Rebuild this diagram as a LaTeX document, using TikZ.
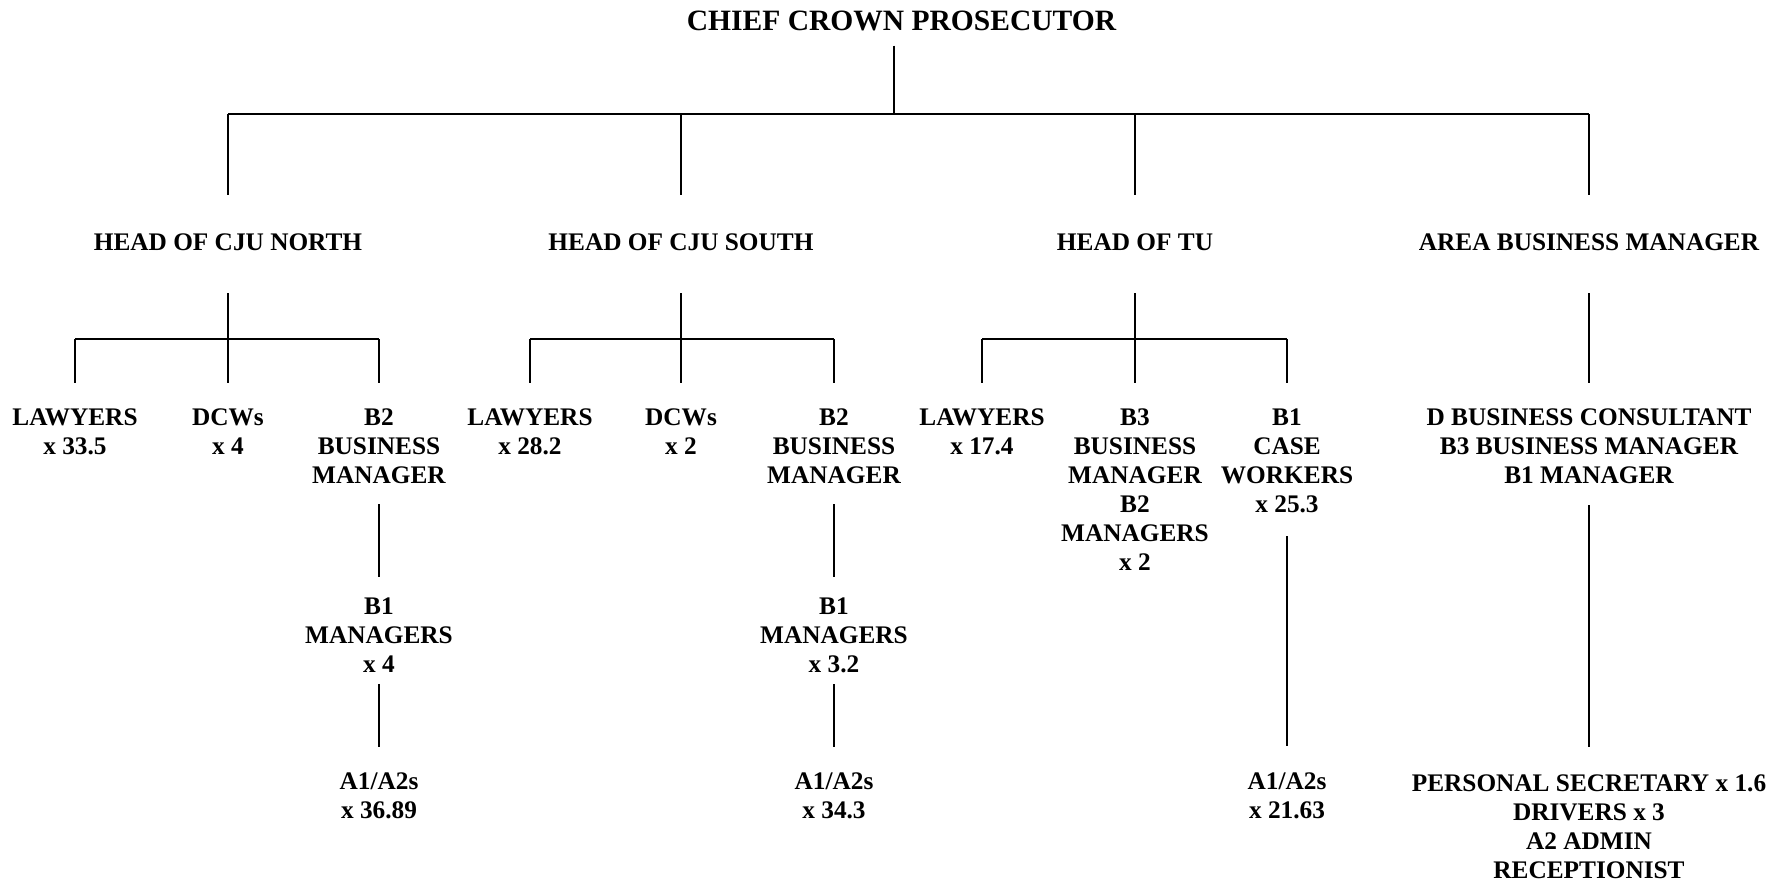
\documentclass[tikz,border=0pt]{standalone}
\usepackage{fontspec}
\setmainfont{Liberation Serif}

\begin{document}
\begin{tikzpicture}[
  lbl/.style={font=\fontsize{14.4}{16.6}\selectfont\bfseries, align=center,
    inner sep=0pt, anchor=north},
  ttl/.style={lbl, font=\fontsize{16.8}{20}\selectfont\bfseries},
  link/.style={line width=1pt},
  bar/.style={line width=1.6pt}
]
  \useasboundingbox (0,0) rectangle (35.56,-17.68);

  \node[ttl] (ccp) at (18.03,-0.22) {CHIEF CROWN PROSECUTOR};

  \node[lbl] (cjun) at (4.56,-4.66)  {HEAD OF CJU NORTH};
  \node[lbl] (cjus) at (13.62,-4.66) {HEAD OF CJU SOUTH};
  \node[lbl] (tu)   at (22.7,-4.66)  {HEAD OF TU};
  \node[lbl] (abm)  at (31.78,-4.66) {AREA BUSINESS MANAGER};

  \node[lbl] (nlaw) at (1.5,-8.16)   {LAWYERS\\x 33.5};
  \node[lbl] (ndcw) at (4.56,-8.16)  {DCWs\\x 4};
  \node[lbl] (nbm)  at (7.58,-8.16)  {B2\\BUSINESS\\MANAGER};
  \node[lbl] (nbone) at (7.58,-11.94) {B1\\MANAGERS\\x 4};
  \node[lbl] (nadm) at (7.58,-15.44) {A1/A2s\\x 36.89};

  \node[lbl] (slaw) at (10.6,-8.16)  {LAWYERS\\x 28.2};
  \node[lbl] (sdcw) at (13.62,-8.16) {DCWs\\x 2};
  \node[lbl] (sbm)  at (16.68,-8.16) {B2\\BUSINESS\\MANAGER};
  \node[lbl] (sbone) at (16.68,-11.94) {B1\\MANAGERS\\x 3.2};
  \node[lbl] (sadm) at (16.68,-15.44) {A1/A2s\\x 34.3};

  \node[lbl] (tlaw) at (19.64,-8.16) {LAWYERS\\x 17.4};
  \node[lbl] (tbm)  at (22.7,-8.16)
    {B3\\BUSINESS\\MANAGER\\B2\\MANAGERS\\x 2};
  \node[lbl] (tcw)  at (25.74,-8.16) {B1\\CASE\\WORKERS\\x 25.3};
  \node[lbl] (tadm) at (25.74,-15.44) {A1/A2s\\x 21.63};

  \node[lbl] (abmmgr) at (31.78,-8.16)
    {D BUSINESS CONSULTANT\\B3 BUSINESS MANAGER\\B1 MANAGER};
  \node[lbl] (abmstaff) at (31.78,-15.48)
    {PERSONAL SECRETARY x 1.6\\DRIVERS x 3\\A2 ADMIN\\RECEPTIONIST};

  \coordinate (top) at (17.88,-2.28);
  \coordinate (jn) at (4.56,-6.78);
  \coordinate (js) at (13.62,-6.78);
  \coordinate (jt) at (22.7,-6.78);

  \draw[link, shorten <=0.28cm] (ccp.south -| top) -- (top);
  \draw[bar] (cjun |- top) -- (abm |- top);
  \draw[link, shorten >=0.76cm] (cjun |- top) -- (cjun.north);
  \draw[link, shorten >=0.76cm] (cjus |- top) -- (cjus.north);
  \draw[link, shorten >=0.76cm] (tu |- top) -- (tu.north);
  \draw[link, shorten >=0.76cm] (abm |- top) -- (abm.north);

  \draw[link, shorten <=0.86cm] (cjun.base) -- (jn);
  \draw[bar] (nlaw |- jn) -- (nbm |- jn);
  \draw[link, shorten >=0.5cm] (nlaw |- jn) -- (nlaw.north);
  \draw[link, shorten >=0.5cm] (ndcw |- jn) -- (ndcw.north);
  \draw[link, shorten >=0.5cm] (nbm |- jn) -- (nbm.north);
  \draw[link, shorten <=0.4cm, shorten >=0.4cm] (nbm.south) -- (nbone.north);
  \draw[link, shorten <=0.22cm, shorten >=0.5cm] (nbone.south) -- (nadm.north);

  \draw[link, shorten <=0.86cm] (cjus.base) -- (js);
  \draw[bar] (slaw |- js) -- (sbm |- js);
  \draw[link, shorten >=0.5cm] (slaw |- js) -- (slaw.north);
  \draw[link, shorten >=0.5cm] (sdcw |- js) -- (sdcw.north);
  \draw[link, shorten >=0.5cm] (sbm |- js) -- (sbm.north);
  \draw[link, shorten <=0.4cm, shorten >=0.4cm] (sbm.south) -- (sbone.north);
  \draw[link, shorten <=0.22cm, shorten >=0.5cm] (sbone.south) -- (sadm.north);

  \draw[link, shorten <=0.86cm] (tu.base) -- (jt);
  \draw[bar] (tlaw |- jt) -- (tcw |- jt);
  \draw[link, shorten >=0.5cm] (tlaw |- jt) -- (tlaw.north);
  \draw[link, shorten >=0.5cm] (tbm |- jt) -- (tbm.north);
  \draw[link, shorten >=0.5cm] (tcw |- jt) -- (tcw.north);
  \draw[link, shorten <=0.46cm, shorten >=0.52cm] (tcw.south) -- (tadm.north);

  \draw[link, shorten <=0.86cm, shorten >=0.5cm] (abm.base) -- (abmmgr.north);
  \draw[link, shorten <=0.42cm, shorten >=0.54cm] (abmmgr.south) -- (abmstaff.north);
\end{tikzpicture}
\end{document}
